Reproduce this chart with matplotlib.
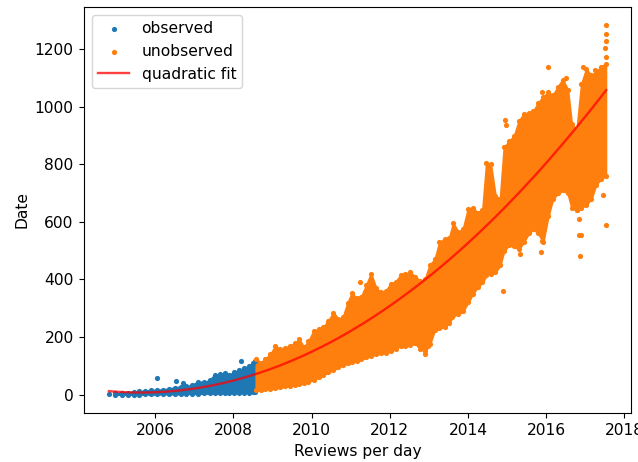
import numpy as np
import matplotlib
matplotlib.use("Agg")
import matplotlib.pyplot as plt
import matplotlib.dates as mdates
from datetime import datetime, timedelta

# ---- observed (blue) band: fractional year, low, high ----
obs_year = [2004.98, 2005.15, 2005.30, 2005.45, 2005.60, 2005.75, 2005.90, 2006.05,
            2006.20, 2006.35, 2006.50, 2006.65, 2006.80, 2006.95, 2007.10, 2007.25,
            2007.40, 2007.52, 2007.65, 2007.78, 2007.90, 2008.02, 2008.15, 2008.28,
            2008.40, 2008.50, 2008.56]
obs_lo = [0, 0, 0, 0, 0, 1, 1, 1, 2, 2, 2, 2, 3, 3, 3, 4, 4, 4, 5, 5, 5, 6, 6, 7, 7, 8, 8]
obs_hi = [4, 6, 7, 9, 11, 13, 15, 16, 17, 20, 24, 27, 28, 33, 45, 42, 50, 68, 70, 74,
          68, 78, 85, 92, 100, 108, 115]
obs_out_year = [2004.82, 2006.04, 2006.54, 2006.72, 2008.19]
obs_out_val = [1, 56, 47, 40, 117]

# ---- unobserved (orange) band ----
unobs_year = [2008.58, 2008.70, 2008.82, 2008.95, 2009.07, 2009.20, 2009.33, 2009.45,
              2009.57, 2009.68, 2009.80, 2009.92, 2010.05, 2010.18, 2010.30, 2010.43,
              2010.56, 2010.68, 2010.80, 2010.92, 2011.03, 2011.15, 2011.27, 2011.40,
              2011.52, 2011.65, 2011.77, 2011.90, 2012.02, 2012.15, 2012.28, 2012.40,
              2012.52, 2012.65, 2012.77, 2012.90, 2013.02, 2013.15, 2013.27, 2013.40,
              2013.52, 2013.62, 2013.75, 2013.87, 2014.00, 2014.12, 2014.25, 2014.37,
              2014.47, 2014.58, 2014.70, 2014.82, 2014.92, 2015.05, 2015.18, 2015.30,
              2015.42, 2015.55, 2015.67, 2015.80, 2015.92, 2016.05, 2016.17, 2016.30,
              2016.42, 2016.55, 2016.65, 2016.78, 2016.90, 2017.02, 2017.15, 2017.27,
              2017.40, 2017.52]
unobs_lo = [15, 15, 18, 20, 22, 25, 28, 30, 32, 35, 40, 45, 52, 60, 68, 78,
            86, 95, 102, 108, 112, 118, 122, 130, 135, 140, 143, 145, 150, 160, 170, 168,
            172, 178, 160, 150, 175, 225, 230, 235, 250, 275, 280, 290, 320, 350, 375, 390,
            415, 420, 425, 450, 500, 520, 515, 505, 530, 560, 575, 560, 530, 620, 680, 700,
            710, 700, 650, 640, 650, 660, 680, 730, 750, 760]
unobs_hi = [125, 110, 125, 140, 168, 158, 162, 170, 178, 192, 165, 185, 220, 228, 235, 256,
            285, 262, 268, 318, 352, 335, 340, 380, 420, 370, 355, 360, 385, 392, 415, 420,
            425, 410, 395, 400, 450, 470, 530, 540, 545, 595, 565, 575, 645, 650, 630, 640,
            805, 800, 690, 680, 860, 880, 900, 950, 975, 980, 985, 1015, 1035, 1050, 1040, 1070,
            1095, 1060, 940, 920, 1080, 1130, 1110, 1120, 1140, 1150]
unobs_out_year = [2011.24, 2012.90, 2012.98, 2013.60, 2014.90, 2014.95, 2014.97, 2015.33,
                  2015.87, 2015.90, 2015.90, 2016.05, 2016.86, 2016.85, 2016.90, 2016.83,
                  2016.80, 2016.50, 2016.95, 2017.25, 2017.45, 2017.52, 2017.52, 2017.52,
                  2017.53, 2017.50, 2017.52]
unobs_out_val = [390, 142, 170, 270, 360, 954, 937, 488,
                 494, 533, 1051, 1138, 481, 555, 555, 609,
                 643, 1100, 1138, 1127, 695, 591, 1283, 1255,
                 1230, 1205, 1175]

# ---- red quadratic fit line, read at a few dates ----
fit_year = [2004.82, 2005.40, 2006.00, 2007.00, 2008.00, 2008.56, 2010.00, 2011.88,
            2014.43, 2014.95, 2016.36, 2017.53]
fit_val = [10, 4, 10, 27, 52, 65, 150, 297, 574, 643, 885, 1048]


def to_dates(years):
    out = []
    for y in years:
        yi = int(np.floor(y))
        out.append(datetime(yi, 1, 1) + timedelta(days=(y - yi) * 365.25))
    return out


plt.rcParams["font.size"] = 11.2
plt.rcParams["xtick.major.size"] = 3.9
plt.rcParams["ytick.major.size"] = 3.9

BLUE = "#1f77b4"
ORANGE = "#ff7f0e"
S = 14

fig = plt.figure(figsize=(6.38, 4.62), dpi=100)
ax = fig.add_axes([84 / 638, 1 - 413 / 462, (631 - 84) / 638, (413 - 7) / 462])

od = to_dates(obs_year)
ud = to_dates(unobs_year)

ax.fill_between(od, obs_lo, obs_hi, color=BLUE, linewidth=1.5, edgecolor=BLUE, zorder=1)
ax.fill_between(ud, unobs_lo, unobs_hi, color=ORANGE, linewidth=1.5, edgecolor=ORANGE, zorder=1)

ax.scatter(od + od + to_dates(obs_out_year), list(obs_lo) + list(obs_hi) + list(obs_out_val),
           s=S, color=BLUE, linewidths=0, zorder=2, label="observed")
ax.scatter(ud + ud + to_dates(unobs_out_year), list(unobs_lo) + list(unobs_hi) + list(unobs_out_val),
           s=S, color=ORANGE, linewidths=0, zorder=2, label="unobserved")

coef = np.polyfit(fit_year, fit_val, 2)
fx = np.linspace(min(fit_year), max(fit_year), 300)
ax.plot(to_dates(fx), np.polyval(coef, fx), color="red", alpha=0.75, lw=1.7, zorder=3,
        label="quadratic fit")

ax.xaxis.set_major_locator(mdates.YearLocator(2))
ax.xaxis.set_major_formatter(mdates.DateFormatter("%Y"))
ax.set_yticks([0, 200, 400, 600, 800, 1000, 1200])
ax.set_xlabel("Reviews per day")
ax.set_ylabel("Date")
ax.legend(loc="upper left", scatterpoints=1)

fig.savefig("out.png", dpi=100)
